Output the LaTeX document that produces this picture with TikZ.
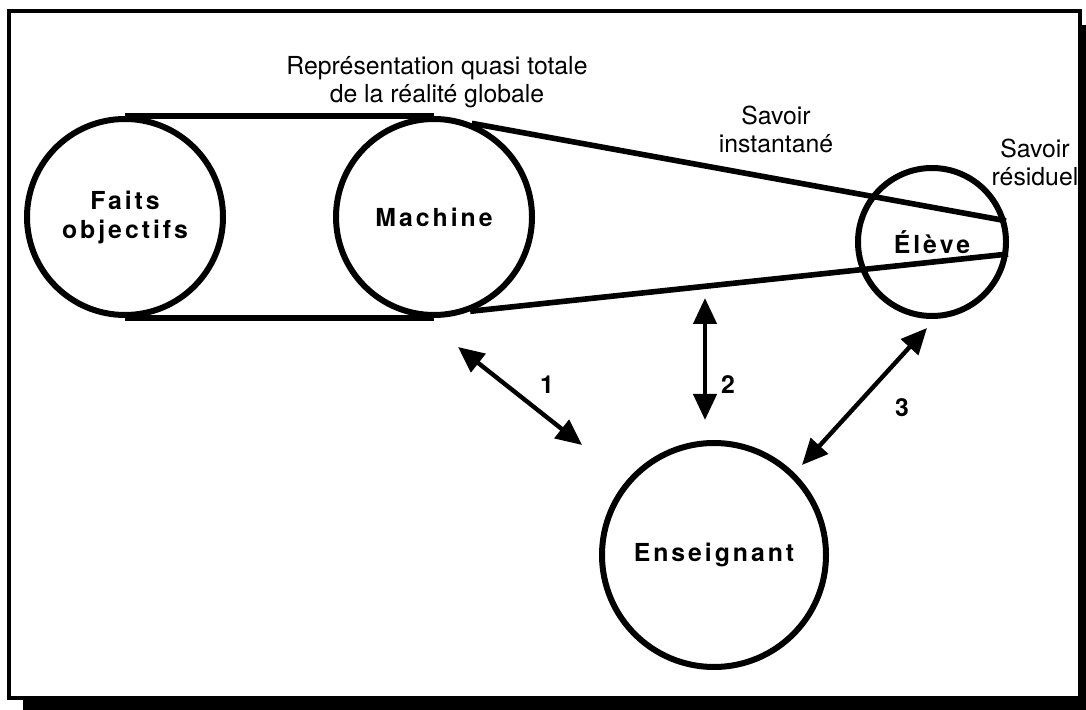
\documentclass[tikz,border=0pt]{standalone}
\usepackage{fontspec}
\setmainfont{TeX Gyre Heros}
\newfontfamily\spacedbold{TeX Gyre Heros}[LetterSpace=12]
\usetikzlibrary{arrows.meta}
\tikzset{body/.style={circle, draw=black, line width=3pt, inner sep=0pt, align=center,
    font=\spacedbold\bfseries\fontsize{12.4}{14.5}\selectfont},
belt/.style={line width=2.8pt},
link/.style={line width=2.2pt, {Triangle[length=13pt,width=11.5pt]}-{Triangle[length=13pt,width=11.5pt]}},
note/.style={inner sep=0pt, align=center, font=\fontsize{12.4}{14}\selectfont},
num/.style={inner sep=0pt, font=\bfseries\fontsize{12.4}{15}\selectfont}}

\begin{document}
\begin{tikzpicture}[x=0.5pt,y=-0.5pt]

    \useasboundingbox (0,0) rectangle (1086,710);

    % frame and its shadow
    \fill (23,25) rectangle (1086,710);
    \draw[line width=2pt, fill=white] (9,11) rectangle (1080,698);

    \node[body, minimum size=98pt]  (faits)   at (125,217) {Faits\\objectifs};
    \node[body, minimum size=98pt]  (machine) at (434,217) {Machine};
    \node[body, minimum size=74pt]  (eleve)   at (932,242) {Élève};
    \node[body, minimum size=112pt] (ens)     at (714,555) {Enseignant};

    \draw[belt] (faits.north) -- (machine.north);
    \draw[belt] (faits.south) -- (machine.south);
    \draw[belt] (machine.68) -- (eleve.16);
    \draw[belt] (machine.-69) -- (eleve.-9);

    \node[note] (repr)  at (437,82)  {Représentation quasi totale\\de la réalité globale};
    \node[note] (inst)  at (776,129) {Savoir\\instantané};
    \node[note] (resid) at (1035,162) {Savoir\\résiduel};

    \coordinate (a1) at (458,347);
    \coordinate (b1) at (582,445);
    \coordinate (a2) at (705,298);
    \coordinate (b2) at (705,420);
    \coordinate (a3) at (927,328);
    \coordinate (b3) at (802,465);

    \foreach \i in {1,2,3}
    \draw[link] (a\i) -- (b\i);

    \node[num] (n1) at (547,385) {1};
    \node[num] (n2) at (728,385) {2};
    \node[num] (n3) at (902,408) {3};

\end{tikzpicture}
\end{document}
